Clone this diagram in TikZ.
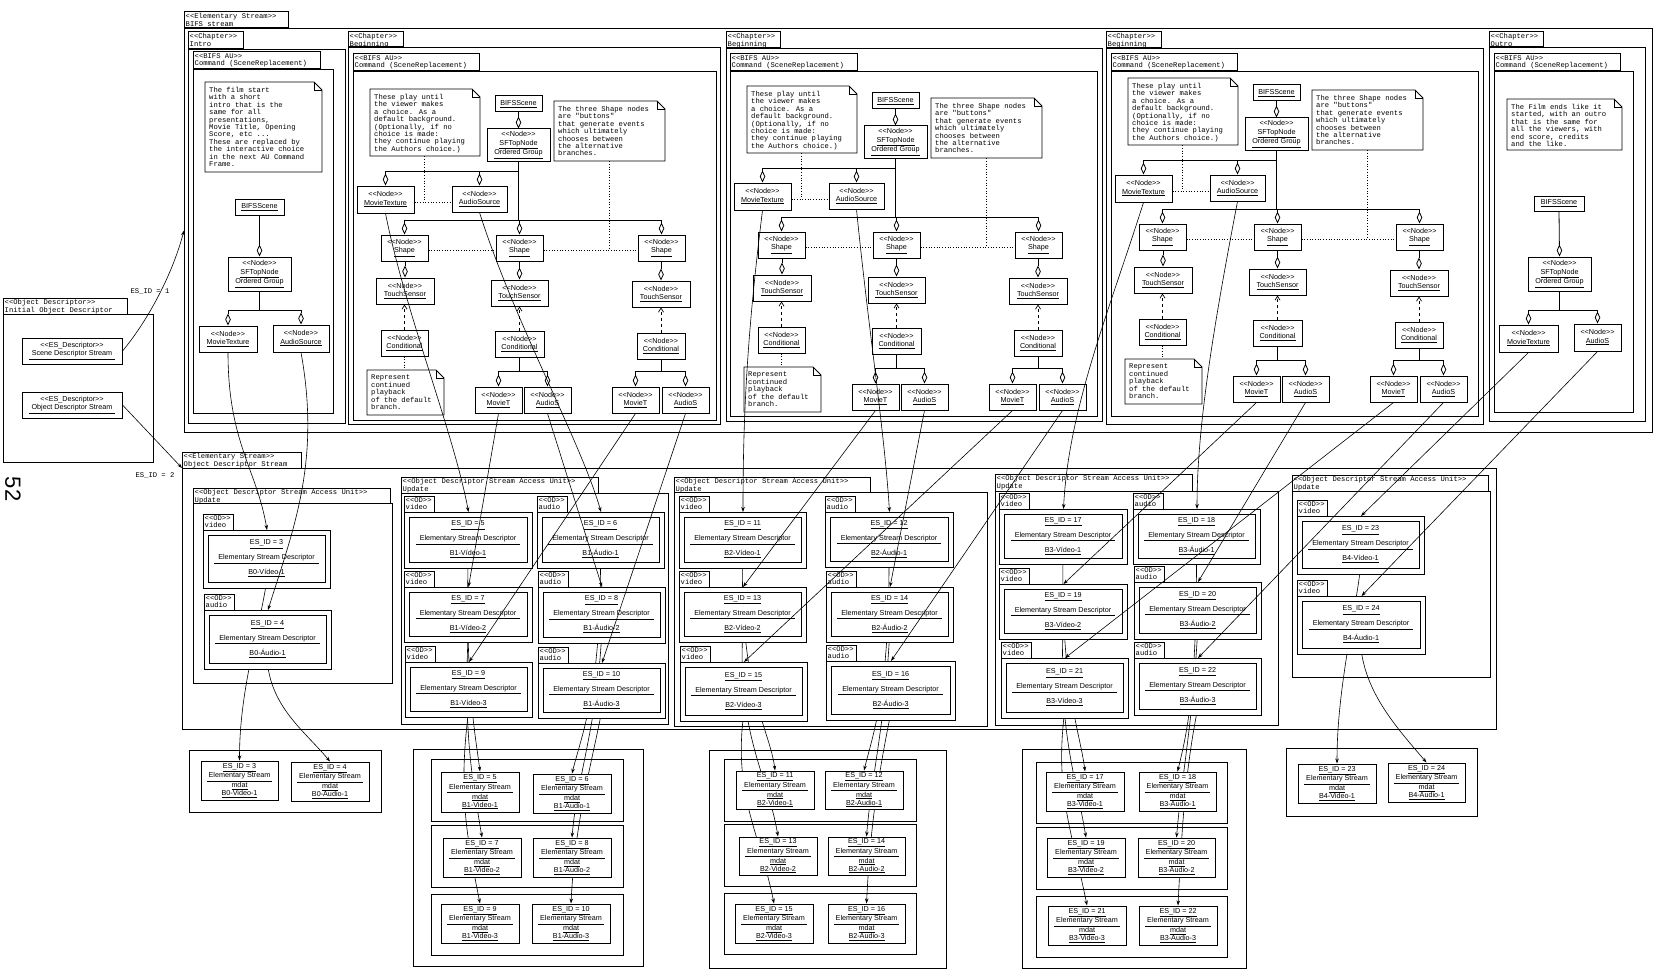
\documentclass[tikz,border=0pt]{standalone}
\usepackage{fontspec}
\setmainfont{Liberation Sans}[Ligatures=TeXOff]
\newfontfamily\monof{Liberation Mono}[Ligatures=TeXOff]
\usetikzlibrary{arrows.meta}
\pgfdeclarelayer{under}
\pgfsetlayers{under,main}
\tikzset{
  nb/.style={draw, line width=1pt, fill=white, inner sep=0pt, align=center, font=\fontsize{7.2}{8.2}\selectfont},
  esb/.style={draw, line width=1pt, fill=white, inner sep=0pt, align=center, font=\fontsize{7.2}{15}\selectfont},
  mdb/.style={draw, line width=1pt, fill=white, inner sep=0pt, align=center, font=\fontsize{7.2}{8}\selectfont},
  mbox/.style={draw, line width=1pt, inner sep=0pt},
  cbox/.style={draw, line width=1pt, inner sep=0pt, anchor=north west},
  tabtxt/.style={anchor=north west, inner sep=0pt, align=left, font=\monof\fontsize{7.2}{7.4}\selectfont},
  ntxt/.style={anchor=north west, inner sep=0pt, align=left, font=\monof\fontsize{7.2}{7.4}\selectfont},
  con/.style={line width=0.6pt, -{Stealth[length=5pt,width=3.5pt]}},
  dia/.style={line width=0.8pt, -{Diamond[open,length=12pt,width=5.5pt]}},
  agg/.style={line width=0.8pt},
  dep/.style={line width=0.7pt, dashed, -{Straight Barb[length=4pt,width=5pt]}},
  ann/.style={line width=0.7pt, dotted},
}
% box by corners: [style]{name}{x1}{y1}{x2}{y2}{text}
\newcommand{\BX}[7][nb]{\node[#1, minimum width={((#5)-(#3))*1pt}, minimum height={((#6)-(#4))*1pt}] (#2) at ({((#3)+(#5))/2},{((#4)+(#6))/2}) {#7};}
% container with tab: name, x1, ytab, xtab2, y1, x2, y2, text
\newcommand{\CT}[8]{%
  \draw[line width=1pt] (#2,#3) rectangle (#4,#5);
  \node[tabtxt] (#1t) at ({#2+1.5},{#3+1.2}) {#8};
  \node[cbox, minimum width={((#6)-(#2))*1pt}, minimum height={((#7)-(#5))*1pt}] (#1) at (#2,#5) {};}
% note: name, x1, y1, x2, y2, text
\newcommand{\NT}[6]{%
  \node[inner sep=0pt, minimum width={((#4)-(#2))*1pt}, minimum height={((#5)-(#3))*1pt}] (#1) at ({((#2)+(#4))/2},{((#3)+(#5))/2}) {};
  \draw[line width=0.9pt, fill=white] (#2,#3) -- ({#4-8},#3) -- (#4,{#3+8}) -- (#4,#5) -- (#2,#5) -- cycle;
  \draw[line width=0.6pt] ({#4-8},#3) -- ({#4-8},{#3+8}) -- (#4,{#3+8});
  \node[ntxt] (#1x) at ({#2+4},{#3+5}) {#6};}
% OD box: id, x1, y1, x2, y2, kind, label
\newcommand{\ODB}[7]{%
  \draw[line width=1pt, fill=white] (#2,{#3-16}) rectangle ({#2+30},#3);
  \node[tabtxt] (es#1t) at ({#2+1.5},{#3-14.8}) {<<OD>>\\#6};
  \node[cbox, fill=white, minimum width={((#4)-(#2))*1pt}, minimum height={((#5)-(#3))*1pt}] (es#1o) at (#2,#3) {};
  \BX[esb]{es#1}{#2+5}{#3+5}{#4-5}{#5-6}{\underline{ES\_ID = #1}\\\underline{\hspace{4pt}Elementary Stream Descriptor\hspace{4pt}}\\\underline{#7}}}
% mdat box: id, x1, y1, x2, y2, label
\newcommand{\MD}[6]{\BX[mdb]{m#1}{#2}{#3}{#4}{#5}{\underline{ES\_ID = #1}\\\underline{\hspace{2pt}Elementary Stream\hspace{2pt}}\\\underline{mdat}\\\underline{#6}}}
% Beginning chapter contents: prefix, xshift, yshift
\newcommand{\BEG}[3]{%
\begin{scope}[shift={(#2,#3)}]
 \NT{#1nA}{17}{15}{127}{82}{These play until\\the viewer makes\\a choice. As a\\default background.\\(Optionally, if no\\choice is made:\\they continue playing\\the Authors choice.)}
 \BX{#1scene}{142}{22}{189}{38}{\underline{BIFSScene}}
 \BX{#1sf}{134}{55}{197}{87}{<<Node>>\\\underline{SFTopNode}\\\underline{Ordered Group}}
 \NT{#1nB}{201}{27}{312}{87}{The three Shape nodes\\are "buttons"\\that generate events\\which ultimately\\chooses between\\the alternative\\branches.}
 \BX{#1mt}{4}{112}{61}{139}{<<Node>>\\\underline{MovieTexture}}
 \BX{#1as}{99}{112}{154}{138}{<<Node>>\\\underline{AudioSource}}
 \BX{#1sh1}{28}{161}{75}{187}{<<Node>>\\\underline{Shape}}
 \BX{#1sh2}{143}{161}{190}{187}{<<Node>>\\\underline{Shape}}
 \BX{#1sh3}{285}{161}{332}{187}{<<Node>>\\\underline{Shape}}
 \BX{#1ts1}{23}{204}{81}{230}{<<Node>>\\\underline{TouchSensor}}
 \BX{#1ts2}{138}{206}{195}{232}{<<Node>>\\\underline{TouchSensor}}
 \BX{#1ts3}{279}{207}{337}{233}{<<Node>>\\\underline{TouchSensor}}
 \BX{#1cd1}{28}{256}{75}{282}{<<Node>>\\\underline{Conditional}}
 \BX{#1cd2}{142}{257}{191}{283}{<<Node>>\\\underline{Conditional}}
 \BX{#1cd3}{284}{259}{332}{285}{<<Node>>\\\underline{Conditional}}
 \NT{#1nC}{14}{296}{91}{341}{Represent\\continued\\playback\\of the default\\branch.}
 \BX{#1mt1}{122}{313}{169}{339}{<<Node>>\\\underline{MovieT}}
 \BX{#1as1}{171}{313}{218}{339}{<<Node>>\\\underline{AudioS}}
 \BX{#1mt2}{259}{313}{306}{339}{<<Node>>\\\underline{MovieT}}
 \BX{#1as2}{309}{313}{356}{339}{<<Node>>\\\underline{AudioS}}
 \coordinate (#1q1) at (71,128);
 \coordinate (#1q2) at (256,176);
 \coordinate (#1b1) at (0,97);
 \coordinate (#1b2) at (0,146);
 \coordinate (#1b3) at (0,297);
 \draw[dia] (#1sf.north |- #1scene.south) -- (#1sf.north);
 \draw[agg] (#1sf.south) -- (#1sf.south |- #1b2);
 \draw[agg] (#1mt.north |- #1b1) -- (#1sf.south |- #1b1);
 \draw[dia] (#1mt.north |- #1b1) -- (#1mt.north);
 \draw[dia] (#1as.north |- #1b1) -- (#1as.north);
 \draw[agg] (#1sh1.north |- #1b2) -- (#1sh3.north |- #1b2);
 \draw[dia] (#1sh1.north |- #1b2) -- (#1sh1.north);
 \draw[dia] (#1sh2.north |- #1b2) -- (#1sh2.north);
 \draw[dia] (#1sh3.north |- #1b2) -- (#1sh3.north);
 \foreach \i in {1,2,3} {
   \draw[dia] (#1ts\i.north |- #1sh\i.south) -- (#1ts\i.north);
   \draw[dep] (#1cd\i.north) -- (#1cd\i.north |- #1ts\i.south);
 }
 \draw[agg] (#1cd2.south) -- (#1cd2.south |- #1b3);
 \draw[agg] (#1mt1.north |- #1b3) -- (#1as1.north |- #1b3);
 \draw[dia] (#1mt1.north |- #1b3) -- (#1mt1.north);
 \draw[dia] (#1as1.north |- #1b3) -- (#1as1.north);
 \draw[agg] (#1cd3.south) -- (#1cd3.south |- #1b3);
 \draw[agg] (#1mt2.north |- #1b3) -- (#1as2.north |- #1b3);
 \draw[dia] (#1mt2.north |- #1b3) -- (#1mt2.north);
 \draw[dia] (#1as2.north |- #1b3) -- (#1as2.north);
 \draw[ann] (#1nA.south -| #1q1) -- (#1q1);
 \draw[ann] (#1mt.east |- #1q1) -- (#1as.west |- #1q1);
 \draw[ann] (#1nB.south -| #1q2) -- (#1q2);
 \draw[ann] (#1sh1.east |- #1q2) -- (#1sh2.west |- #1q2);
 \draw[ann] (#1sh2.east |- #1q2) -- (#1sh3.west |- #1q2);
 \draw[ann] (#1cd1.south) -- (#1cd1.south |- #1nC.north);
\end{scope}}

\begin{document}
\begin{tikzpicture}[x=1pt, y=-1pt]
\useasboundingbox (0,0) rectangle (1659,971);

% page number
\node[rotate=-90, inner sep=0pt, font=\fontsize{22}{22}\selectfont] (pgn) at (13,489) {52};

% ---------- Initial object descriptor ----------
\CT{iod}{3}{298}{127}{314}{153}{462}{<<Object Descriptor>>\\Initial Object Descriptor}
\BX{sds}{22}{338}{122}{364}{<<ES\_Descriptor>>\\\underline{\hspace{3pt}Scene Descriptor Stream\hspace{3pt}}}
\BX{ods}{22}{392}{122}{418}{<<ES\_Descriptor>>\\\underline{\hspace{3pt}Object Descriptor Stream\hspace{3pt}}}
\node[tabtxt, anchor=center] (l1) at (150,291) {ES\_ID = 1};
\node[tabtxt, anchor=center] (l2) at (155,475) {ES\_ID = 2};

% ---------- BIFS stream containers ----------
\CT{bifs}{184}{12}{288}{28}{1652}{432}{<<Elementary Stream>>\\BIFS stream}
\CT{chi}{188}{32}{243}{49}{345}{423}{<<Chapter>>\\Intro}
\CT{aui}{193}{52}{320}{69}{333}{413}{<<BIFS AU>>\\Command (SceneReplacement)}
\CT{ch1}{348}{32}{403}{47}{720}{424}{<<Chapter>>\\Beginning}
\CT{au1}{353}{54}{479}{71}{716}{420}{<<BIFS AU>>\\Command (SceneReplacement)}
\CT{ch2}{726}{32}{780}{48}{1102}{421}{<<Chapter>>\\Beginning}
\CT{au2}{730}{54}{857}{71}{1097}{416}{<<BIFS AU>>\\Command (SceneReplacement)}
\CT{ch3}{1106}{32}{1161}{48}{1483}{424}{<<Chapter>>\\Beginning}
\CT{au3}{1111}{54}{1237}{71}{1478}{416}{<<BIFS AU>>\\Command (SceneReplacement)}
\CT{cho}{1489}{32}{1543}{47}{1645}{421}{<<Chapter>>\\Outro}
\CT{auo}{1494}{54}{1620}{71}{1633}{412}{<<BIFS AU>>\\Command (SceneReplacement)}

% ---------- OD stream containers ----------
\CT{odst}{182}{452}{301}{468}{1496}{729}{<<Elementary Stream>>\\Object Descriptor Stream}
\CT{u0}{193}{488}{390}{503}{392}{683}{<<Object Descriptor Stream Access Unit>>\\Update}
\CT{u1}{401}{477}{598}{493}{668}{724}{<<Object Descriptor Stream Access Unit>>\\Update}
\CT{u2}{674}{477}{870}{492}{987}{726}{<<Object Descriptor Stream Access Unit>>\\Update}
\CT{u3}{995}{474}{1192}{491}{1278}{725}{<<Object Descriptor Stream Access Unit>>\\Update}
\CT{u4}{1292}{475}{1488}{491}{1490}{677}{<<Object Descriptor Stream Access Unit>>\\Update}

% ---------- mdat ----------
\BX[mbox]{mb0}{189}{750}{381}{812}{}
\BX[mbox]{mb1}{413}{749}{643}{966}{}
\BX[mbox]{r1a}{431}{759}{623}{821}{}
\BX[mbox]{r1b}{431}{825}{623}{887}{}
\BX[mbox]{r1c}{431}{894}{623}{955}{}
\BX[mbox]{mb2}{709}{750}{946}{968}{}
\BX[mbox]{r2a}{724}{759}{916}{821}{}
\BX[mbox]{r2b}{724}{824}{916}{886}{}
\BX[mbox]{r2c}{724}{893}{916}{954}{}
\BX[mbox]{mb3}{1022}{749}{1246}{968}{}
\BX[mbox]{r3a}{1036}{762}{1227}{823}{}
\BX[mbox]{r3b}{1036}{827}{1227}{889}{}
\BX[mbox]{r3c}{1036}{896}{1227}{957}{}
\BX[mbox]{mb4}{1286}{748}{1477}{816}{}
\MD{3}{201}{761}{278}{800}{B0-Video-1}
\MD{4}{291}{762}{369}{801}{B0-Audio-1}
\MD{5}{441}{772}{519}{812}{B1-Video-1}
\MD{6}{533}{774}{611}{813}{B1-Audio-1}
\MD{7}{443}{838}{521}{877}{B1-Video-2}
\MD{8}{533}{838}{611}{877}{B1-Audio-2}
\MD{9}{441}{904}{519}{943}{B1-Video-3}
\MD{10}{532}{904}{610}{943}{B1-Audio-3}
\MD{11}{736}{771}{814}{809}{B2-Video-1}
\MD{12}{825}{771}{903}{809}{B2-Audio-1}
\MD{13}{739}{837}{817}{875}{B2-Video-2}
\MD{14}{828}{837}{905}{875}{B2-Audio-2}
\MD{15}{735}{904}{813}{943}{B2-Video-3}
\MD{16}{828}{904}{905}{943}{B2-Audio-3}
\MD{17}{1046}{772}{1124}{811}{B3-Video-1}
\MD{18}{1139}{772}{1216}{811}{B3-Audio-1}
\MD{19}{1047}{838}{1125}{877}{B3-Video-2}
\MD{20}{1138}{838}{1215}{877}{B3-Audio-2}
\MD{21}{1048}{906}{1126}{945}{B3-Video-3}
\MD{22}{1139}{906}{1217}{945}{B3-Audio-3}
\MD{23}{1298}{764}{1376}{803}{B4-Video-1}
\MD{24}{1388}{763}{1465}{802}{B4-Audio-1}

% ---------- OD descriptors ----------
\ODB{3}{203}{530}{330}{588}{video}{B0-Vídeo-1}
\ODB{4}{204}{610}{331}{669}{audio}{B0-Áudio-1}
\ODB{5}{404}{512}{532}{568}{video}{B1-Vídeo-1}
\ODB{6}{537}{512}{664}{568}{audio}{B1-Áudio-1}
\ODB{7}{404}{587}{532}{642}{video}{B1-Vídeo-2}
\ODB{8}{538}{587}{665}{643}{audio}{B1-Áudio-2}
\ODB{9}{405}{662}{532}{717}{video}{B1-Vídeo-3}
\ODB{10}{538}{663}{665}{718}{audio}{B1-Áudio-3}
\ODB{11}{679}{512}{806}{568}{video}{B2-Vídeo-1}
\ODB{12}{825}{512}{953}{567}{audio}{B2-Áudio-1}
\ODB{13}{679}{587}{806}{642}{video}{B2-Vídeo-2}
\ODB{14}{826}{587}{953}{642}{audio}{B2-Áudio-2}
\ODB{15}{680}{662}{807}{721}{video}{B2-Vídeo-3}
\ODB{16}{826}{661}{955}{720}{audio}{B2-Áudio-3}
\ODB{17}{999}{509}{1127}{564}{video}{B3-Vídeo-1}
\ODB{18}{1133}{509}{1260}{564}{audio}{B3-Áudio-1}
\ODB{19}{999}{584}{1127}{639}{video}{B3-Vídeo-2}
\ODB{20}{1134}{582}{1261}{639}{audio}{B3-Áudio-2}
\ODB{21}{1001}{658}{1128}{718}{video}{B3-Vídeo-3}
\ODB{22}{1134}{658}{1261}{715}{audio}{B3-Áudio-3}
\ODB{23}{1297}{516}{1424}{574}{video}{B4-Vídeo-1}
\ODB{24}{1297}{596}{1425}{654}{video}{B4-Áudio-1}

% ---------- Intro contents ----------
\NT{inote}{205}{82}{322}{172}{The film start\\with a short\\intro that is the\\same for all\\presentations,\\Movie Title, Opening\\Score, etc ...\\These are replaced by\\the interactive choice\\in the next AU Command\\Frame.}
\BX{iscene}{235}{199}{284}{215}{\underline{BIFSScene}}
\BX{isf}{228}{257}{291}{291}{<<Node>>\\\underline{SFTopNode}\\\underline{Ordered Group}}
\BX{imt}{199}{326}{257}{352}{<<Node>>\\\underline{MovieTexture}}
\BX{ias}{273}{325}{329}{352}{<<Node>>\\\underline{AudioSource}}
\coordinate (ib) at (0,310);
\draw[dia] (iscene.south) -- (isf.north);
\draw[agg] (isf.south) -- (isf.south |- ib);
\draw[agg] (imt.north |- ib) -- (ias.north |- ib);
\draw[dia] (imt.north |- ib) -- (imt.north);
\draw[dia] (ias.north |- ib) -- (ias.north);

% ---------- Beginning chapters ----------
\BEG{a}{353}{74}
\BEG{b}{730}{71}
\BEG{c}{1111}{63}

% ---------- Outro contents ----------
\NT{onote}{1507}{99}{1622}{150}{The Film ends like it\\started, with an outro\\that is the same for\\all the viewers, with\\end score, credits\\and the like.}
\BX{oscene}{1534}{196}{1584}{211}{\underline{BIFSScene}}
\BX{osf}{1528}{257}{1591}{291}{<<Node>>\\\underline{SFTopNode}\\\underline{Ordered Group}}
\BX{omt}{1499}{325}{1558}{352}{<<Node>>\\\underline{MovieTexture}}
\BX{oas}{1574}{324}{1621}{351}{<<Node>>\\\underline{AudioS}}
\coordinate (ob) at (0,310);
\draw[dia] (oscene.south) -- (osf.north);
\draw[agg] (osf.south) -- (osf.south |- ob);
\draw[agg] (omt.north |- ob) -- (oas.north |- ob);
\draw[dia] (omt.north |- ob) -- (omt.north);
\draw[dia] (oas.north |- ob) -- (oas.north);

% ---------- lower connectors (behind OD boxes) ----------
\begin{pgfonlayer}{under}
\draw[con] (es3.south) .. controls +(-8,50) and +(0,-70) .. (m3.north);
\draw[con] (es4.south) .. controls +(5,45) and +(-25,-30) .. (m4.north);
\draw[con] (es5.south) .. controls +(-2,130) and +(-5,-40) .. (m5.north);
\draw[con] (es7.south) .. controls +(-4,100) and +(-10,-60) .. (m7.north);
\draw[con] (es9.south) .. controls +(-10,80) and +(-14,-70) .. (m9.north);
\draw[con] (es6.south) .. controls +(0,130) and +(10,-40) .. (m6.north);
\draw[con] (es8.south) .. controls +(-5,90) and +(5,-60) .. (m8.north);
\draw[con] (es10.south) .. controls +(-12,60) and +(4,-80) .. (m10.north);
\draw[con] (es11.south) .. controls +(-2,130) and +(-5,-40) .. (m11.north);
\draw[con] (es13.south) .. controls +(-4,100) and +(-10,-60) .. (m13.north);
\draw[con] (es15.south) .. controls +(-10,80) and +(-14,-70) .. (m15.north);
\draw[con] (es12.south) .. controls +(0,130) and +(10,-40) .. (m12.north);
\draw[con] (es14.south) .. controls +(-5,90) and +(5,-60) .. (m14.north);
\draw[con] (es16.south) .. controls +(-12,60) and +(4,-80) .. (m16.north);
\draw[con] (es17.south) .. controls +(-2,130) and +(-5,-40) .. (m17.north);
\draw[con] (es19.south) .. controls +(-4,100) and +(-10,-60) .. (m19.north);
\draw[con] (es21.south) .. controls +(-10,80) and +(-14,-70) .. (m21.north);
\draw[con] (es18.south) .. controls +(0,130) and +(10,-40) .. (m18.north);
\draw[con] (es20.south) .. controls +(-5,90) and +(5,-60) .. (m20.north);
\draw[con] (es22.south) .. controls +(-12,60) and +(4,-80) .. (m22.north);
\draw[con] (es23.south) .. controls +(-8,60) and +(0,-70) .. (m23.north);
\draw[con] (es24.south) .. controls +(5,45) and +(-30,-35) .. (m24.north);
\end{pgfonlayer}

% ---------- top connectors ----------
\draw[con] (sds.east) .. controls +(25,-30) and +(-12,45) .. (bifs.west);
\draw[con] (ods.east) -- (odst.north west);
\draw[con] (imt.south) .. controls +(0,90) and +(-10,-60) .. (es3o.north);
\draw[con] (ias.south) .. controls +(20,110) and +(25,-80) .. (es4o.north);
\draw[con] (amt.south) .. controls +(20,100) and +(-15,-80) .. (es5o.north);
\draw[con] (aas.south) .. controls +(35,110) and +(-20,-70) .. (es6o.north);
\draw[con] (amt1.south) -- (es7o.north);
\draw[con] (aas1.south) -- (es8o.north);
\draw[con] (amt2.south) -- (es9o.north);
\draw[con] (aas2.south) -- (es10o.north);
\draw[con] (bmt.south) .. controls +(-15,120) and +(0,-100) .. (es11o.north);
\draw[con] (bas.south) .. controls +(12,120) and +(-5,-80) .. (es12o.north);
\draw[con] (bmt1.south) -- (es13o.north);
\draw[con] (bas1.south) -- (es14o.north);
\draw[con] (bmt2.south) -- (es15o.north);
\draw[con] (bas2.south) -- (es16o.north);
\draw[con] (cmt.south) .. controls +(-35,110) and +(5,-100) .. (es17o.north);
\draw[con] (cas.south) .. controls +(-25,130) and +(0,-80) .. (es18o.north);
\draw[con] (cmt1.south) -- (es19o.north);
\draw[con] (cas1.south) -- (es20o.north);
\draw[con] (cmt2.south) -- (es21o.north);
\draw[con] (cas2.south) -- (es22o.north);
\draw[con] (omt.south) -- (es23o.north);
\draw[con] (oas.south) -- (es24o.north);
\end{tikzpicture}
\end{document}
